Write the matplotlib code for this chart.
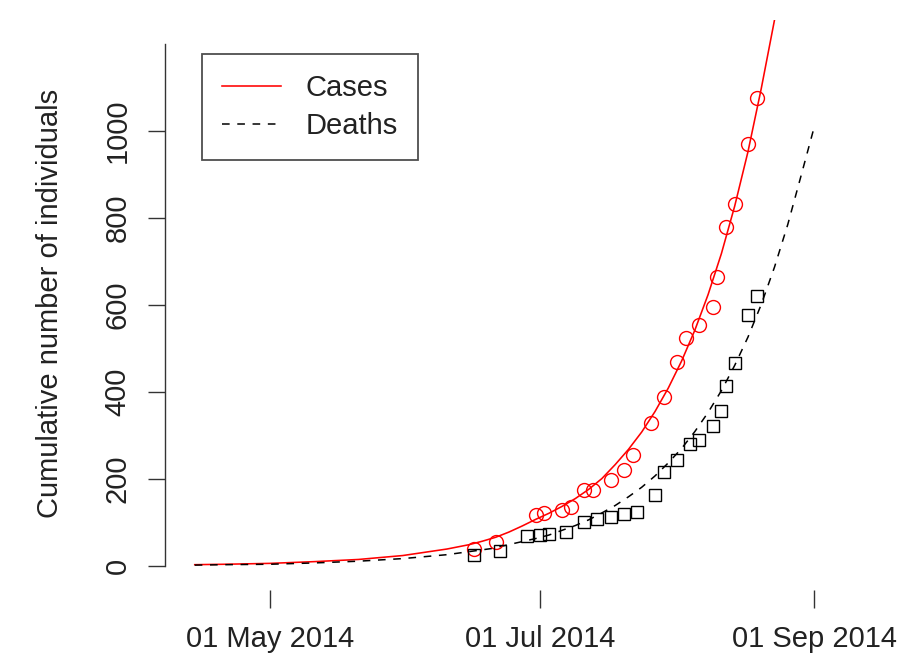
import numpy as np
import matplotlib
matplotlib.use("Agg")
import matplotlib.pyplot as plt
import matplotlib.dates as mdates

plt.rcParams['font.family'] = ['Liberation Sans', 'DejaVu Sans']

# ---- observed data ----
case_dates = ['2014-06-16', '2014-06-21', '2014-06-30', '2014-07-02', '2014-07-06',
              '2014-07-08', '2014-07-11', '2014-07-13', '2014-07-17', '2014-07-20',
              '2014-07-22', '2014-07-26', '2014-07-29', '2014-08-01', '2014-08-03',
              '2014-08-06', '2014-08-09', '2014-08-10', '2014-08-12', '2014-08-14',
              '2014-08-17', '2014-08-19']
case_values = [39, 55, 117, 122, 129, 136, 175, 175, 198, 221, 255, 329, 389, 469,
               524, 554, 595, 664, 779, 832, 970, 1076]

death_dates = ['2014-06-16', '2014-06-22', '2014-06-28', '2014-07-01', '2014-07-03',
               '2014-07-07', '2014-07-11', '2014-07-14', '2014-07-17', '2014-07-20',
               '2014-07-23', '2014-07-27', '2014-07-29', '2014-08-01', '2014-08-04',
               '2014-08-06', '2014-08-09', '2014-08-11', '2014-08-12', '2014-08-14',
               '2014-08-17', '2014-08-19']
death_values = [25, 34, 69, 71, 74, 78, 101, 108, 113, 120, 124, 163, 216, 244, 280,
                290, 322, 356, 414, 467, 577, 621]

# ---- fitted curves ----
case_fit_dates = ['2014-04-14', '2014-04-21', '2014-05-01', '2014-05-11', '2014-05-21',
                  '2014-05-31', '2014-06-10', '2014-06-15', '2014-06-18', '2014-06-21',
                  '2014-06-24', '2014-06-27', '2014-06-30', '2014-07-03', '2014-07-06',
                  '2014-07-09', '2014-07-12', '2014-07-15', '2014-07-18', '2014-07-21',
                  '2014-07-24', '2014-07-27', '2014-07-30', '2014-08-02', '2014-08-05',
                  '2014-08-08', '2014-08-11', '2014-08-14', '2014-08-17', '2014-08-20',
                  '2014-08-23']
case_fit_values = [3, 4, 6, 10, 15, 24, 39, 49, 57, 66, 78, 92, 107, 121, 137, 155,
                   176, 201, 233, 268, 308, 355, 409, 471, 542, 624, 718, 827, 952,
                   1097, 1255]

death_fit_dates = ['2014-04-14', '2014-04-21', '2014-05-01', '2014-05-11', '2014-05-21',
                   '2014-05-31', '2014-06-10', '2014-06-20', '2014-06-30', '2014-07-03',
                   '2014-07-06', '2014-07-09', '2014-07-12', '2014-07-15', '2014-07-18',
                   '2014-07-21', '2014-07-24', '2014-07-27', '2014-07-30', '2014-08-02',
                   '2014-08-05', '2014-08-08', '2014-08-11', '2014-08-14', '2014-08-17',
                   '2014-08-20', '2014-08-23', '2014-08-26', '2014-08-29', '2014-09-01']
death_fit_values = [2, 3, 4, 7, 11, 17, 26, 40, 63, 71, 82, 93, 106, 122, 139, 159,
                    181, 207, 237, 270, 309, 353, 403, 461, 526, 601, 687, 785, 897,
                    1010]

x_tick_dates = ['2014-05-01', '2014-07-01', '2014-09-01']
y_ticks = [0, 200, 400, 600, 800, 1000]


def d(lst):
    return mdates.date2num(np.array(lst, dtype='datetime64[D]'))


W, H = 899, 656
fig = plt.figure(figsize=(W / 100, H / 100), dpi=100)
L, R, T, B = 165, 840, 20, 590
ax = fig.add_axes([L / W, 1 - B / H, (R - L) / W, (B - T) / H])

red = '#FF0000'
ink = '#222222'

ax.plot(d(case_fit_dates), case_fit_values, color=red, lw=1.15, label='Cases')
ax.plot(d(death_fit_dates), death_fit_values, color='black', lw=1.1,
        dashes=(5, 5), label='Deaths')
ax.plot(d(case_dates), case_values, linestyle='none', marker='o', ms=10,
        mfc='none', mec=red, mew=1.0)
ax.plot(d(death_dates), death_values, linestyle='none', marker='s', ms=9,
        mfc='none', mec='black', mew=1.0)

may1 = mdates.date2num(np.datetime64('2014-05-01'))
ax.set_xlim(may1 - 23.72, may1 + 128.8)
ax.set_ylim(-55.2, 1255)

for s in ['top', 'right', 'bottom']:
    ax.spines[s].set_visible(False)
ax.spines['left'].set_bounds(0, 1200)
ax.spines['left'].set_color('#333333')
ax.spines['left'].set_linewidth(1.0)

ax.set_xticks(d(x_tick_dates))
ax.xaxis.set_major_formatter(mdates.DateFormatter('%d %b %Y'))
ax.set_yticks(y_ticks)
ax.set_yticklabels([str(v) for v in y_ticks])
ax.tick_params(axis='x', direction='out', length=13, width=1.0, color='#333333',
               labelsize=21, labelcolor=ink, pad=12)
ax.tick_params(axis='y', direction='out', length=12, width=1.0, color='#333333',
               labelsize=21, labelcolor=ink, pad=12)
for lab in ax.get_yticklabels():
    lab.set_rotation(90)
    lab.set_va('center')
    lab.set_ha('right')

fig.text(50 / W, 1 - 303 / H, 'Cumulative number of individuals', rotation=90,
         ha='center', va='center', fontsize=21, color=ink)

leg = ax.legend(loc='upper left', bbox_to_anchor=(202 / W, 1 - 54 / H),
                bbox_transform=fig.transFigure, fontsize=21, frameon=True,
                fancybox=False, borderpad=0.7, handlelength=2.0,
                handletextpad=0.85, labelspacing=0.32, borderaxespad=0)
leg.get_frame().set_edgecolor('#222222')
leg.get_frame().set_linewidth(1.3)
for t in leg.get_texts():
    t.set_color(ink)

fig.savefig('out.png', dpi=100, facecolor='white')
